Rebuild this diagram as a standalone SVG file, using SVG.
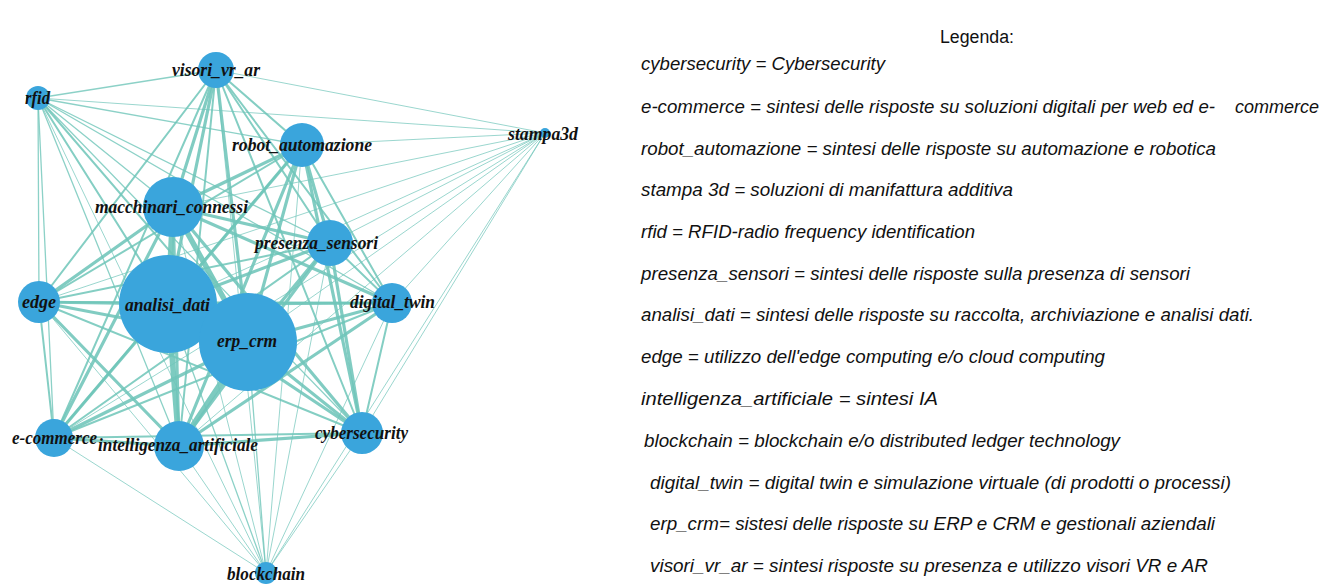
<svg xmlns="http://www.w3.org/2000/svg" width="1327" height="586" viewBox="0 0 1327 586">
<style>
.bg{fill:#ffffff}
#edges line{stroke:#6fc5b9;stroke-linecap:round}
.x{stroke-width:5.5;stroke-opacity:.9}
.t{stroke-width:3.2;stroke-opacity:.88}
.m{stroke-width:2;stroke-opacity:.85}
.s{stroke-width:1.3;stroke-opacity:.8}
.h{stroke-width:1;stroke-opacity:.7}
.node circle{fill:#3aa5dc}
.node text{font-family:"Liberation Serif","Times New Roman",serif;font-style:italic;font-weight:bold;font-size:18.5px;fill:#111;text-anchor:start}
.leg{font-family:"Liberation Sans",Arial,sans-serif;font-style:italic;font-size:18px;fill:#111}
.legt{font-family:"Liberation Sans",Arial,sans-serif;font-size:18px;fill:#111}
</style>
<rect class="bg" x="0" y="0" width="1327" height="586"/>
<g id="edges">
<line class="x" x1="168" y1="304" x2="248" y2="342"/>
<line class="x" x1="168" y1="304" x2="173" y2="207"/>
<line class="x" x1="248" y1="342" x2="173" y2="207"/>
<line class="x" x1="168" y1="304" x2="179" y2="446"/>
<line class="x" x1="248" y1="342" x2="179" y2="446"/>
<line class="t" x1="168" y1="304" x2="330" y2="243"/>
<line class="t" x1="248" y1="342" x2="330" y2="243"/>
<line class="t" x1="168" y1="304" x2="302" y2="145"/>
<line class="t" x1="248" y1="342" x2="302" y2="145"/>
<line class="t" x1="168" y1="304" x2="362" y2="433"/>
<line class="t" x1="248" y1="342" x2="362" y2="433"/>
<line class="t" x1="168" y1="304" x2="392" y2="303"/>
<line class="t" x1="248" y1="342" x2="392" y2="303"/>
<line class="t" x1="168" y1="304" x2="39" y2="302"/>
<line class="t" x1="248" y1="342" x2="39" y2="302"/>
<line class="t" x1="168" y1="304" x2="54" y2="438"/>
<line class="t" x1="248" y1="342" x2="54" y2="438"/>
<line class="t" x1="168" y1="304" x2="216" y2="70"/>
<line class="t" x1="248" y1="342" x2="216" y2="70"/>
<line class="t" x1="173" y1="207" x2="179" y2="446"/>
<line class="t" x1="173" y1="207" x2="330" y2="243"/>
<line class="t" x1="173" y1="207" x2="302" y2="145"/>
<line class="t" x1="173" y1="207" x2="362" y2="433"/>
<line class="t" x1="173" y1="207" x2="392" y2="303"/>
<line class="t" x1="173" y1="207" x2="39" y2="302"/>
<line class="t" x1="173" y1="207" x2="54" y2="438"/>
<line class="t" x1="173" y1="207" x2="216" y2="70"/>
<line class="t" x1="179" y1="446" x2="330" y2="243"/>
<line class="t" x1="179" y1="446" x2="302" y2="145"/>
<line class="t" x1="179" y1="446" x2="362" y2="433"/>
<line class="t" x1="179" y1="446" x2="392" y2="303"/>
<line class="t" x1="179" y1="446" x2="39" y2="302"/>
<line class="t" x1="179" y1="446" x2="54" y2="438"/>
<line class="m" x1="179" y1="446" x2="216" y2="70"/>
<line class="t" x1="330" y1="243" x2="302" y2="145"/>
<line class="t" x1="330" y1="243" x2="362" y2="433"/>
<line class="m" x1="330" y1="243" x2="392" y2="303"/>
<line class="m" x1="330" y1="243" x2="39" y2="302"/>
<line class="m" x1="330" y1="243" x2="54" y2="438"/>
<line class="m" x1="330" y1="243" x2="216" y2="70"/>
<line class="t" x1="302" y1="145" x2="362" y2="433"/>
<line class="m" x1="302" y1="145" x2="392" y2="303"/>
<line class="m" x1="302" y1="145" x2="39" y2="302"/>
<line class="m" x1="302" y1="145" x2="54" y2="438"/>
<line class="m" x1="302" y1="145" x2="216" y2="70"/>
<line class="m" x1="362" y1="433" x2="392" y2="303"/>
<line class="m" x1="362" y1="433" x2="39" y2="302"/>
<line class="m" x1="362" y1="433" x2="54" y2="438"/>
<line class="m" x1="362" y1="433" x2="216" y2="70"/>
<line class="m" x1="392" y1="303" x2="39" y2="302"/>
<line class="m" x1="392" y1="303" x2="54" y2="438"/>
<line class="m" x1="392" y1="303" x2="216" y2="70"/>
<line class="m" x1="39" y1="302" x2="54" y2="438"/>
<line class="m" x1="39" y1="302" x2="216" y2="70"/>
<line class="m" x1="54" y1="438" x2="216" y2="70"/>
<line class="m" x1="38" y1="98" x2="168" y2="304"/>
<line class="m" x1="38" y1="98" x2="248" y2="342"/>
<line class="s" x1="38" y1="98" x2="173" y2="207"/>
<line class="s" x1="38" y1="98" x2="179" y2="446"/>
<line class="s" x1="38" y1="98" x2="330" y2="243"/>
<line class="s" x1="38" y1="98" x2="302" y2="145"/>
<line class="s" x1="38" y1="98" x2="362" y2="433"/>
<line class="s" x1="38" y1="98" x2="392" y2="303"/>
<line class="s" x1="38" y1="98" x2="39" y2="302"/>
<line class="s" x1="38" y1="98" x2="54" y2="438"/>
<line class="s" x1="38" y1="98" x2="216" y2="70"/>
<line class="h" x1="545" y1="133" x2="168" y2="304"/>
<line class="h" x1="545" y1="133" x2="248" y2="342"/>
<line class="h" x1="545" y1="133" x2="173" y2="207"/>
<line class="h" x1="545" y1="133" x2="179" y2="446"/>
<line class="h" x1="545" y1="133" x2="330" y2="243"/>
<line class="h" x1="545" y1="133" x2="302" y2="145"/>
<line class="h" x1="545" y1="133" x2="362" y2="433"/>
<line class="h" x1="545" y1="133" x2="392" y2="303"/>
<line class="h" x1="545" y1="133" x2="39" y2="302"/>
<line class="h" x1="545" y1="133" x2="54" y2="438"/>
<line class="h" x1="545" y1="133" x2="216" y2="70"/>
<line class="h" x1="545" y1="133" x2="38" y2="98"/>
<line class="h" x1="545" y1="133" x2="266" y2="573"/>
<line class="s" x1="266" y1="573" x2="168" y2="304"/>
<line class="s" x1="266" y1="573" x2="248" y2="342"/>
<line class="h" x1="266" y1="573" x2="173" y2="207"/>
<line class="h" x1="266" y1="573" x2="179" y2="446"/>
<line class="h" x1="266" y1="573" x2="330" y2="243"/>
<line class="h" x1="266" y1="573" x2="302" y2="145"/>
<line class="h" x1="266" y1="573" x2="362" y2="433"/>
<line class="h" x1="266" y1="573" x2="392" y2="303"/>
<line class="h" x1="266" y1="573" x2="39" y2="302"/>
<line class="h" x1="266" y1="573" x2="54" y2="438"/>
<line class="h" x1="266" y1="573" x2="216" y2="70"/>
<line class="h" x1="266" y1="573" x2="38" y2="98"/>
</g>
<g id="n-visori" class="node"><circle cx="216" cy="70" r="18"/><text x="172" y="76" textLength="88" lengthAdjust="spacingAndGlyphs">visori_vr_ar</text></g>
<g id="n-rfid" class="node"><circle cx="38" cy="98" r="12"/><text x="25" y="104" textLength="25" lengthAdjust="spacingAndGlyphs">rfid</text></g>
<g id="n-robot" class="node"><circle cx="302" cy="145" r="22"/><text x="232" y="151" textLength="140" lengthAdjust="spacingAndGlyphs">robot_automazione</text></g>
<g id="n-stampa" class="node"><circle cx="545" cy="133" r="5"/><text x="508" y="140" textLength="70" lengthAdjust="spacingAndGlyphs">stampa3d</text></g>
<g id="n-macchinari" class="node"><circle cx="173" cy="207" r="30"/><text x="95" y="213" textLength="153" lengthAdjust="spacingAndGlyphs">macchinari_connessi</text></g>
<g id="n-presenza" class="node"><circle cx="330" cy="243" r="23"/><text x="255" y="249" textLength="123" lengthAdjust="spacingAndGlyphs">presenza_sensori</text></g>
<g id="n-edge" class="node"><circle cx="39" cy="302" r="21"/><text x="22" y="308" textLength="34" lengthAdjust="spacingAndGlyphs">edge</text></g>
<g id="n-analisi" class="node"><circle cx="168" cy="304" r="49"/><text x="125" y="311" textLength="85" lengthAdjust="spacingAndGlyphs">analisi_dati</text></g>
<g id="n-erp" class="node"><circle cx="248" cy="342" r="49"/><text x="217" y="347" textLength="60" lengthAdjust="spacingAndGlyphs">erp_crm</text></g>
<g id="n-digital" class="node"><circle cx="392" cy="303" r="20"/><text x="350" y="308" textLength="85" lengthAdjust="spacingAndGlyphs">digital_twin</text></g>
<g id="n-ecommerce" class="node"><circle cx="54" cy="438" r="19"/><text x="12" y="444" textLength="85" lengthAdjust="spacingAndGlyphs">e-commerce</text></g>
<g id="n-ia" class="node"><circle cx="179" cy="446" r="25"/><text x="98" y="451" textLength="160" lengthAdjust="spacingAndGlyphs">intelligenza_artificiale</text></g>
<g id="n-cyber" class="node"><circle cx="362" cy="433" r="21"/><text x="315" y="439" textLength="93" lengthAdjust="spacingAndGlyphs">cybersecurity</text></g>
<g id="n-blockchain" class="node"><circle cx="266" cy="573" r="11"/><text x="227" y="580" textLength="78" lengthAdjust="spacingAndGlyphs">blockchain</text></g>
<g id="legend">
<text class="legt" x="940" y="43" textLength="74" lengthAdjust="spacingAndGlyphs">Legenda:</text>
<text class="leg" x="641" y="70" textLength="244" lengthAdjust="spacingAndGlyphs">cybersecurity = Cybersecurity</text>
<text class="leg" x="641" y="113" textLength="574" lengthAdjust="spacingAndGlyphs">e-commerce = sintesi delle risposte su soluzioni digitali per web ed e-</text>
<text class="leg" x="1235" y="113" textLength="84" lengthAdjust="spacingAndGlyphs">commerce</text>
<text class="leg" x="641" y="155" textLength="575" lengthAdjust="spacingAndGlyphs">robot_automazione = sintesi delle risposte su automazione e robotica</text>
<text class="leg" x="641" y="196" textLength="372" lengthAdjust="spacingAndGlyphs">stampa 3d = soluzioni di manifattura additiva</text>
<text class="leg" x="641" y="238" textLength="334" lengthAdjust="spacingAndGlyphs">rfid = RFID-radio frequency identification</text>
<text class="leg" x="641" y="280" textLength="549" lengthAdjust="spacingAndGlyphs">presenza_sensori = sintesi delle risposte sulla presenza di sensori</text>
<text class="leg" x="641" y="321" textLength="613" lengthAdjust="spacingAndGlyphs">analisi_dati = sintesi delle risposte su raccolta, archiviazione e analisi dati.</text>
<text class="leg" x="641" y="363" textLength="464" lengthAdjust="spacingAndGlyphs">edge = utilizzo dell'edge computing e/o cloud computing</text>
<text class="leg" x="641" y="405" textLength="297" lengthAdjust="spacingAndGlyphs">intelligenza_artificiale = sintesi IA</text>
<text class="leg" x="644" y="447" textLength="476" lengthAdjust="spacingAndGlyphs">blockchain = blockchain e/o distributed ledger technology</text>
<text class="leg" x="650" y="489" textLength="581" lengthAdjust="spacingAndGlyphs">digital_twin = digital twin e simulazione virtuale (di prodotti o processi)</text>
<text class="leg" x="650" y="530" textLength="565" lengthAdjust="spacingAndGlyphs">erp_crm= sistesi delle risposte su ERP e CRM e gestionali aziendali</text>
<text class="leg" x="650" y="572" textLength="558" lengthAdjust="spacingAndGlyphs">visori_vr_ar = sintesi risposte su presenza e utilizzo visori VR e AR</text>
</g>
</svg>
